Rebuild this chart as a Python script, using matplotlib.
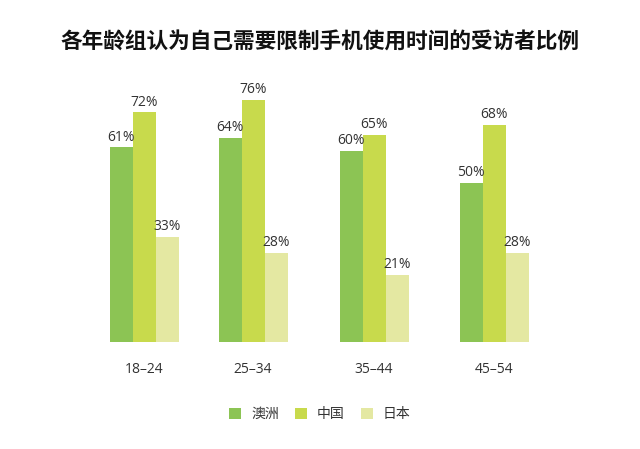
import matplotlib
matplotlib.use("Agg")
import matplotlib.pyplot as plt
from matplotlib.patches import Patch

plt.rcParams['font.family'] = ['Noto Sans CJK SC', 'DejaVu Sans']

title = "各年龄组认为自己需要限制手机使用时间的受访者比例"
categories = ["18–24", "25–34", "35–44", "45–54"]
series_names = ["澳洲", "中国", "日本"]
australia = [61, 64, 60, 50]
china = [72, 76, 65, 68]
japan = [33, 28, 21, 28]

colors = ["#8cc454", "#c8da4c", "#e4e8a2"]
group_centers = [144.5, 253, 374, 494]   # layout (pixel units)
bar_w = 23
num_font = ['Open Sans', 'DejaVu Sans']

W, H = 640, 449
fig = plt.figure(figsize=(W / 100, H / 100), dpi=100)
fig.patch.set_facecolor("white")
ax = fig.add_axes([0, 107 / H, 1, 319 / H])
ax.set_xlim(0, W)
ax.set_ylim(0, 100)
ax.axis("off")

for i, (vals, col) in enumerate(zip([australia, china, japan], colors)):
    xs = [c + (i - 1) * bar_w for c in group_centers]
    ax.bar(xs, vals, width=bar_w, color=col, edgecolor="none")
    for x, v in zip(xs, vals):
        ax.annotate(f"{v}%", (x, v), xytext=(0, 2), textcoords="offset points",
                    ha="center", va="bottom", fontsize=10, color="#333333",
                    family=num_font)

for c, lab in zip(group_centers, categories):
    ax.annotate(lab, (c, 0), xytext=(0, -20), textcoords="offset points",
                ha="center", va="center", fontsize=10, color="#333333",
                family=num_font)

fig.text(0.5, 1 - 42 / H, title, ha="center", va="center", fontsize=15.6,
         fontweight="bold", color="#111111")

handles = [Patch(facecolor=c, edgecolor="none") for c in colors]
fig.legend(handles, series_names, loc="center", bbox_to_anchor=(320 / W, 1 - 414 / H),
           ncol=3, frameon=False, fontsize=10, handlelength=0.85, handleheight=0.85,
           columnspacing=1.2, handletextpad=0.7, labelcolor="#333333")

fig.savefig("out.png", dpi=100, facecolor="white")
